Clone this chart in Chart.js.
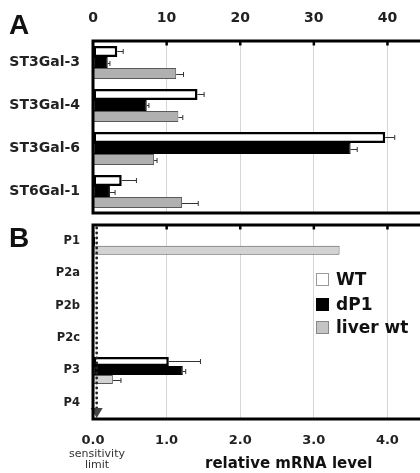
<!DOCTYPE html>
<html><head><meta charset="utf-8">
<script src="https://cdn.jsdelivr.net/npm/chart.js@4/dist/chart.umd.min.js"></script>
<style>
html,body{margin:0;padding:0;background:#fff;overflow:hidden;}
#wrap{position:relative;width:420px;height:473px;overflow:hidden;font-family:"DejaVu Sans",sans-serif;color:#111;}
canvas{position:absolute;left:0;}
#cA{top:0}
#cB{top:220px}
.panel{position:absolute;left:9px;font-family:"Liberation Sans",Arial,sans-serif;font-weight:bold;font-size:28px;line-height:28px;color:#111;}
.leg{position:absolute;left:316px;font-weight:bold;font-size:17px;line-height:17px;white-space:nowrap;}
.leg span.box{position:absolute;left:0;top:2px;width:13px;height:13px;box-sizing:border-box;}
.leg span.txt{position:absolute;left:20px;top:0;}
#sens{position:absolute;left:56px;top:449px;width:82px;text-align:center;font-size:11px;line-height:10.5px;color:#333;}
#xt{position:absolute;left:205px;top:455px;font-weight:bold;font-size:15px;line-height:16px;white-space:nowrap;}
</style></head>
<body><div id="wrap">
<canvas id="cA" width="461" height="216"></canvas>
<canvas id="cB" width="461" height="253"></canvas>
<div class="panel" style="top:11px">A</div>
<div class="panel" style="top:224px">B</div>
<div class="leg" style="top:271px"><span class="box" style="background:#fff;border:1px solid #999"></span><span class="txt">WT</span></div>
<div class="leg" style="top:296px"><span class="box" style="background:#000"></span><span class="txt">dP1</span></div>
<div class="leg" style="top:319px"><span class="box" style="background:#c4c4c4;border:1px solid #888"></span><span class="txt">liver wt</span></div>
<div id="sens">sensitivity<br>limit</div>
<div id="xt">relative mRNA level</div>
</div>
<script>
// ---- Panel A data ----
const catsA = ['ST3Gal-3','ST3Gal-4','ST3Gal-6','ST6Gal-1'];
const wtA = [3.3, 14.2, 39.7, 3.9];
const wtAErr = [0.8, 0.9, 1.3, 2.0];
const dp1A = [2.0, 7.3, 35.0, 2.3];
const dp1AErr = [0.3, 0.3, 0.9, 0.7];
const liverA = [11.3, 11.6, 8.3, 12.1];
const liverAErr = [1.0, 0.6, 0.4, 2.2];
const ticksA = [0, 10, 20, 30, 40];

// ---- Panel B data ----
const catsB = ['P1','P2a','P2b','P2c','P3','P4'];
const wtB = [0.02, 0, 0, 0, 1.03, 0];
const wtBErr = [0, 0, 0, 0, 0.43, 0];
const dp1B = [0.03, 0, 0.02, 0, 1.22, 0];
const dp1BErr = [0, 0, 0, 0, 0.04, 0];
const liverB = [3.35, 0, 0, 0, 0.27, 0];
const liverBErr = [0, 0, 0, 0, 0.11, 0];
const ticksB = ['0.0','1.0','2.0','3.0','4.0'];
const sensitivityLimit = 0.05;

const FONT = '"DejaVu Sans", sans-serif';

const framePlugin = {
  id: 'frame',
  afterDatasetsDraw(chart, args, opts) {
    const {ctx, chartArea: a, scales: {x}} = chart;
    ctx.save();
    // error bars
    chart.data.datasets.forEach((ds, di) => {
      const meta = chart.getDatasetMeta(di);
      const errs = ds.errors || [];
      meta.data.forEach((bar, i) => {
        const e = errs[i];
        if (!e) return;
        const v = ds.data[i];
        const x0 = x.getPixelForValue(v), x1 = x.getPixelForValue(v + e);
        const yy = Math.round(bar.y) + 0.5;
        ctx.strokeStyle = '#333'; ctx.lineWidth = 1;
        ctx.beginPath();
        ctx.moveTo(x0, yy); ctx.lineTo(x1, yy);
        ctx.moveTo(x1, yy - 2.5); ctx.lineTo(x1, yy + 2.5);
        ctx.stroke();
      });
    });
    // sensitivity limit
    if (opts.limit != null) {
      const px = x.getPixelForValue(opts.limit);
      ctx.strokeStyle = '#222'; ctx.lineWidth = 2.8; ctx.lineCap = 'round';
      ctx.setLineDash([0, 5]);
      ctx.beginPath(); ctx.moveTo(px, a.top + 3); ctx.lineTo(px, a.bottom - 8); ctx.stroke();
      ctx.setLineDash([]);
      ctx.fillStyle = '#444';
      ctx.beginPath();
      ctx.moveTo(px - 6, a.bottom - 11); ctx.lineTo(px + 6, a.bottom - 11); ctx.lineTo(px, a.bottom - 1);
      ctx.closePath(); ctx.fill();
    }
    // frame
    ctx.lineCap = 'butt';
    ctx.strokeStyle = '#000'; ctx.lineWidth = 3;
    ctx.strokeRect(a.left, a.top, a.right - a.left, a.bottom - a.top);
    // tick marks inside top border
    ctx.fillStyle = '#000';
    x.ticks.forEach(t => {
      if (t.value > 0 && t.label !== '') {
        const px = x.getPixelForValue(t.value);
        ctx.fillRect(px - 1.2, a.top + 1, 2.5, 3.5);
      }
    });
    ctx.restore();
  }
};

function barSets(wt, wtE, dp, dpE, lv, lvE, liverColor) {
  return [
    {label: 'WT', data: wt, errors: wtE, backgroundColor: '#fff', borderColor: '#000', borderWidth: 2.5, borderSkipped: false},
    {label: 'dP1', data: dp, errors: dpE, backgroundColor: '#000', borderColor: '#000', borderWidth: 1, borderSkipped: false},
    {label: 'liver wt', data: lv, errors: lvE, backgroundColor: liverColor, borderColor: '#5a5a5a', borderWidth: 1, borderSkipped: false}
  ];
}

function noPad(s) { s.paddingTop = 0; s.paddingBottom = 0; s.paddingLeft = 0; s.paddingRight = 0; }

function makeChart(id, cats, sets, cfg) {
  return new Chart(document.getElementById(id), {
    type: 'bar',
    data: {labels: cats, datasets: sets},
    plugins: [framePlugin],
    options: {
      indexAxis: 'y',
      responsive: false,
      animation: false,
      devicePixelRatio: 1,
      layout: {padding: cfg.padding},
      datasets: {bar: {barPercentage: 1, categoryPercentage: cfg.catPct}},
      plugins: {legend: {display: false}, tooltip: {enabled: false}, frame: {limit: cfg.limit}},
      scales: {
        x: {
          type: 'linear', position: cfg.xPos, min: 0, max: cfg.max,
          afterFit(s) { s.height = cfg.xH; noPad(s); },
          afterBuildTicks(s) { s.ticks = cfg.tickVals.map(v => ({value: v})); },
          grid: {color: '#d6d6d6', lineWidth: 1, drawTicks: false},
          border: {display: false},
          ticks: {
            padding: cfg.xPad, color: '#222',
            font: {family: FONT, weight: 'bold', size: cfg.xFont},
            callback: cfg.tickFmt
          }
        },
        y: {
          afterFit(s) { s.width = 93; noPad(s); },
          grid: {display: false, drawTicks: false},
          border: {display: false},
          ticks: {padding: 13, color: '#222', font: {family: FONT, weight: 'bold', size: cfg.yFont}}
        }
      }
    }
  });
}

makeChart('cA', catsA, barSets(wtA, wtAErr, dp1A, dp1AErr, liverA, liverAErr, '#b0b0b0'), {
  padding: {top: 0, bottom: 3, left: 0, right: 0},
  catPct: 0.77, xPos: 'top', max: 50, xH: 41, xPad: 14, xFont: 14, yFont: 14, limit: null,
  tickVals: [...ticksA, 50],
  tickFmt: (v) => ticksA.includes(v) ? String(v) : ''
});

makeChart('cB', catsB, barSets(wtB, wtBErr, dp1B, dp1BErr, liverB, liverBErr, '#d2d2d2'), {
  padding: {top: 5, bottom: 0, left: 0, right: 0},
  catPct: 0.84, xPos: 'bottom', max: 5, xH: 54, xPad: 14, xFont: 13, yFont: 11.5, limit: sensitivityLimit,
  tickVals: [0, 1, 2, 3, 4, 5],
  tickFmt: (v) => v < ticksB.length ? ticksB[v] : ''
});
</script>
</body></html>
